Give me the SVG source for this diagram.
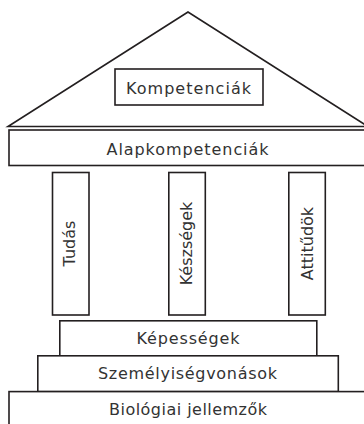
<svg xmlns="http://www.w3.org/2000/svg" width="364" height="424" viewBox="0 0 364 424">
<style>
.box{fill:#fff;stroke:#231f20;stroke-width:1.6}
.t{font-family:"DejaVu Sans","Noto Sans",sans-serif;font-size:16px;fill:#333;text-anchor:middle}
</style>
<rect width="364" height="424" fill="#fff"/>
<g id="roof">
<polygon class="box" points="188,12 8,126.5 368,126.5"/>
</g>
<g id="kompetenciak">
<rect class="box" x="115" y="69" width="148" height="36"/>
<text class="t" x="188.5" y="94" textLength="125" lengthAdjust="spacing">Kompetenciák</text>
</g>
<g id="alapkompetenciak">
<rect class="box" x="9" y="130" width="358" height="35.5"/>
<text class="t" x="187.5" y="155" textLength="162" lengthAdjust="spacing">Alapkompetenciák</text>
</g>
<g id="tudas">
<rect class="box" x="52.5" y="172.5" width="36.5" height="142.5"/>
<text class="t" transform="translate(75,243.5) rotate(-90)">Tudás</text>
</g>
<g id="keszsegek">
<rect class="box" x="168.8" y="172.5" width="36.5" height="142.5"/>
<text class="t" transform="translate(191.5,243.5) rotate(-90)">Készségek</text>
</g>
<g id="attitudok">
<rect class="box" x="288.8" y="172.5" width="36.5" height="142.5"/>
<text class="t" transform="translate(313,243.5) rotate(-90)">Attitűdök</text>
</g>
<g id="kepessegek">
<rect class="box" x="59.8" y="320.8" width="257" height="35"/>
<text class="t" x="188" y="344" textLength="103" lengthAdjust="spacing">Képességek</text>
</g>
<g id="szemelyisegvonasok">
<rect class="box" x="37.8" y="355.8" width="300.5" height="35.8"/>
<text class="t" x="187.5" y="379" textLength="179" lengthAdjust="spacing">Személyiségvonások</text>
</g>
<g id="biologiai">
<rect class="box" x="9" y="391.6" width="358" height="40"/>
<text class="t" x="188" y="415" textLength="158" lengthAdjust="spacing">Biológiai jellemzők</text>
</g>
<g id="connectors"/>
</svg>
